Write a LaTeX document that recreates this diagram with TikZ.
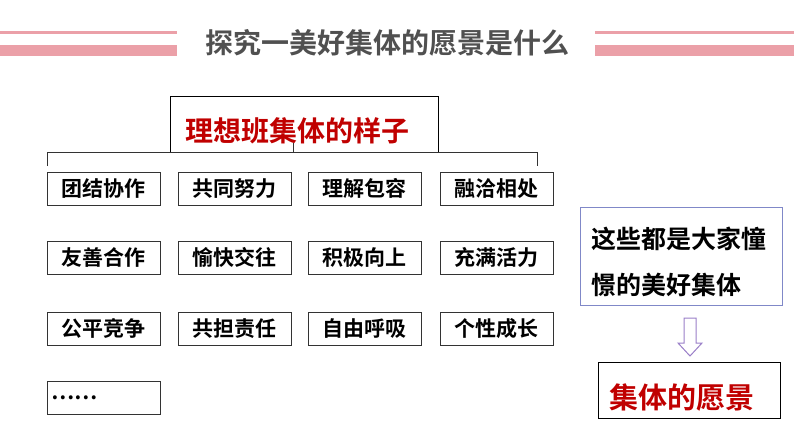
\documentclass[tikz,border=0pt]{standalone}
\usepackage{fontspec}
\setmainfont{Noto Sans CJK SC}[BoldFont={* Bold}]
\newfontfamily\cjkb{Noto Sans CJK SC Bold}
\usetikzlibrary{arrows.meta}
\definecolor{pinkb}{HTML}{EBA0A8}
\definecolor{titg}{HTML}{505050}
\definecolor{redt}{HTML}{C00000}
\definecolor{bluel}{HTML}{8088C8}
\definecolor{arrp}{HTML}{9A7FC8}
\tikzset{cell/.style={draw=black!80,line width=0.8pt,minimum width=113pt,minimum height=33pt,anchor=north west,inner sep=0pt,font=\cjkb\fontsize{21}{24}\selectfont}}
\begin{document}
\begin{tikzpicture}[x=1pt,y=-1pt]
\useasboundingbox (0,0) rectangle (794,447);
\fill[pinkb] (0,31) rectangle (177,33.5);
\fill[pinkb] (0,45) rectangle (177,56);
\fill[pinkb] (595,31) rectangle (794,33.5);
\fill[pinkb] (595,45) rectangle (794,56);
\node[text=titg,font=\cjkb\fontsize{28}{32}\selectfont] (title) at (387,43) {探究一美好集体的愿景是什么};
\draw[black,line width=0.8pt] (170,152) -- (170,96) -- (438,96) -- (438,152);
\node[text=redt,font=\cjkb\fontsize{28}{32}\selectfont] (head) at (297,131) {理想班集体的样子};
\draw[black!80,line width=0.9pt] (47,166) -- (47,152) -- (537,152) -- (537,166);
\draw[black!80,line width=0.9pt] (293,152) -- (293,143);
\foreach \t/\x/\y [count=\i] in {团结协作/47/172,共同努力/178/172,理解包容/308/172,融洽相处/440/172,
  友善合作/47/241,愉快交往/178/241,积极向上/308/241,充满活力/440/241,
  公平竞争/47/312,共担责任/178/312,自由呼吸/308/312,个性成长/440/312}
  \node[cell] (c\i) at (\x,\y) {\t};
\node[cell,text width=105pt,align=left] (dots) at (47,381) {……};
\node[draw=bluel,line width=1pt,minimum width=202pt,minimum height=98pt,anchor=north west,inner sep=0pt] (vis) at (580,207) {};
\node[font=\cjkb\fontsize{25}{46}\selectfont,align=left,anchor=west,inner sep=0pt] (vist) at (591,262) {这些都是大家憧\\憬的美好集体};
\node[draw=black,line width=0.8pt,minimum width=182pt,minimum height=56pt,anchor=north west,inner sep=0pt] (goal) at (598,362) {};
\node[text=redt,font=\cjkb\fontsize{29}{33}\selectfont] (goalt) at (682,398) {集体的愿景};
\draw[arrp,line width=1pt,fill=white] (684,318) -- (696,318) -- (696,343) -- (702,343) -- (690,356) -- (678,343) -- (684,343) -- cycle;
\end{tikzpicture}
\end{document}
